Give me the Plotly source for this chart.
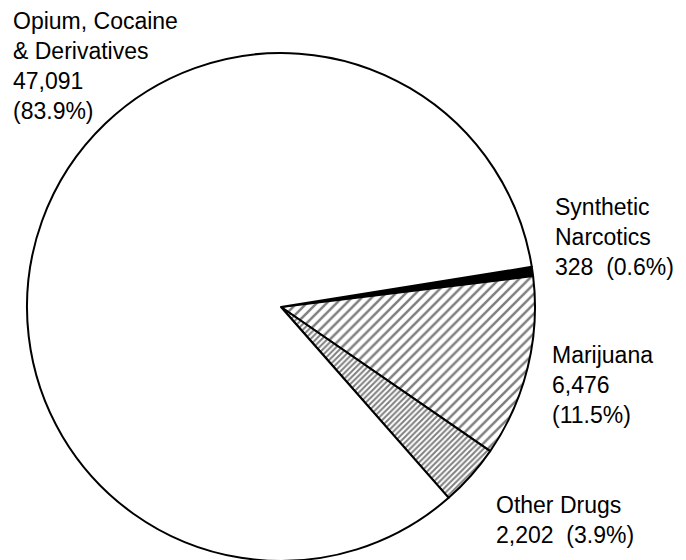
import plotly.graph_objects as go

# ---- data ----
categories = ["Synthetic Narcotics", "Marijuana", "Other Drugs", "Opium, Cocaine & Derivatives"]
counts = [328, 6476, 2202, 47091]
shares = ["0.6%", "11.5%", "3.9%", "83.9%"]
label_text = [
    "Synthetic<br>Narcotics<br>{n}\u00a0\u00a0({p})",
    "Marijuana<br>{n}<br>({p})",
    "Other Drugs<br>{n}\u00a0\u00a0({p})",
    "Opium, Cocaine<br>& Derivatives<br>{n}<br>({p})",
]

# ---- styles / positions ----
fill_colors = ["black", "white", "white", "white"]
pattern_shapes = ["", "/", "/", ""]
pattern_sizes = [8, 7, 4, 8]
pattern_solid = [0.3, 0.36, 0.5, 0.3]
label_pos = [(545, 184), (542, 332), (486, 482), (3, -2)]  # (left px, top px) in figure coords

W, H = 686, 560
cx, cy, r = 273, 299, 254  # figure coords (page adds 8px body margin)

fig = go.Figure(
    go.Pie(
        labels=categories,
        values=counts,
        sort=False,
        direction="clockwise",
        rotation=80.9,
        textinfo="none",
        hoverinfo="skip",
        showlegend=False,
        marker=dict(
            colors=fill_colors,
            line=dict(color="black", width=2),
            pattern=dict(
                shape=pattern_shapes,
                size=pattern_sizes,
                solidity=pattern_solid,
                fgcolor="black",
                bgcolor=fill_colors,
                fillmode="overlay",
            ),
        ),
        domain=dict(
            x=[(cx - r) / W, (cx + r) / W],
            y=[max(0, (H - cy - r) / H), (H - cy + r) / H],
        ),
    )
)

annotations = []
for tmpl, n, p, (lx, ty) in zip(label_text, counts, shares, label_pos):
    annotations.append(
        dict(
            text=tmpl.format(n=f"{n:,}", p=p),
            x=lx / W,
            y=1 - ty / H,
            xref="paper",
            yref="paper",
            xanchor="left",
            yanchor="top",
            align="left",
            showarrow=False,
            font=dict(family="Liberation Sans", size=23, color="black"),
        )
    )

fig.update_layout(
    width=W,
    height=H,
    margin=dict(l=0, r=0, t=0, b=0),
    paper_bgcolor="white",
    plot_bgcolor="white",
    annotations=annotations,
)

fig.write_html("out.html")
